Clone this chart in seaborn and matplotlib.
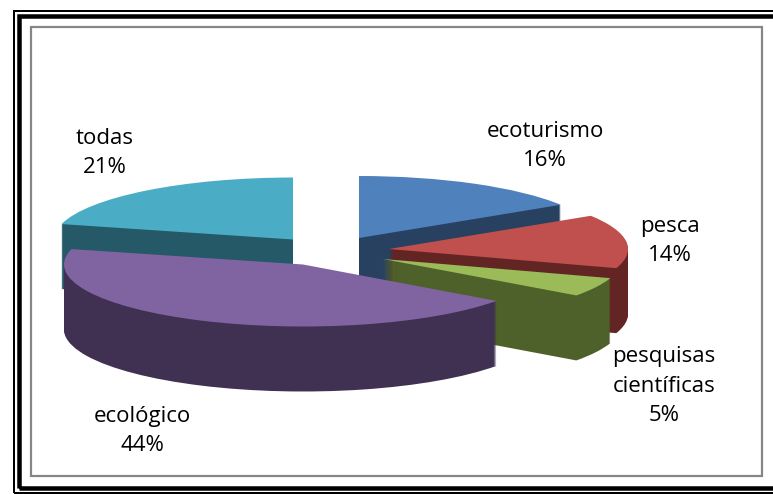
import matplotlib
matplotlib.use("Agg")
import matplotlib.pyplot as plt
from matplotlib.patches import Rectangle
import seaborn as sns

categories = ["ecoturismo", "pesca", "pesquisas\ncientíficas", "ecológico", "todas"]
values = [16, 14, 5, 44, 21]
top_colors = ["#4F81BD", "#C0504D", "#9BBB59", "#8064A2", "#4BACC6"]
wall_colors = ["#284160", "#632523", "#4F612A", "#403152", "#255967"]

# layout (pixels of the 773x494 image)
W, H = 773, 494
RX, RY = 239, 62
DEPTH = 65
centers = [(359, 238), (389, 249), (383, 259), (303, 264.5), (293, 239.5)]
draw_order = [4, 0, 1, 2, 3]
label_pos = [(545, 146), (670, 241), (664, 386), (142, 431), (105, 153)]

sns.set_theme(style="white")
plt.rcParams["font.family"] = ["Open Sans", "DejaVu Sans"]
top_pal = sns.color_palette(top_colors)
wall_pal = sns.color_palette(wall_colors)

K = RY / RX
def yd(py):
    return (H - py) / K

fig = plt.figure(figsize=(W / 100, H / 100), dpi=100, facecolor="white")
ax = fig.add_axes([0, 0, 1, 1])

def one_wedge(i, cx, py, color, z):
    wedges, _ = ax.pie(values, center=(cx, yd(py)), radius=RX, startangle=90,
                       counterclock=False, colors=[color] * len(values),
                       frame=True, wedgeprops={"linewidth": 0})
    for j, w in enumerate(wedges):
        if j != i:
            w.remove()
        else:
            w.set_zorder(z)

z = 3.0
for i in draw_order:
    cx, cy = centers[i]
    for d in range(DEPTH, 0, -1):
        z += 0.001
        one_wedge(i, cx, cy + d, wall_pal[i], z)
    z += 0.001
    one_wedge(i, cx, cy, top_pal[i], z)

ax.set_aspect("auto")
ax.set_xlim(0, W)
ax.set_ylim(0, H / K)
ax.set_xticks([])
ax.set_yticks([])
for s in ax.spines.values():
    s.set_visible(False)

def frame(x0, y0, x1, y1, color, lw):
    ax.add_patch(Rectangle((x0, yd(y1)), x1 - x0, yd(y0) - yd(y1), fill=False,
                           edgecolor=color, linewidth=lw * 0.72, zorder=2,
                           clip_on=True))

frame(14, 11, 790, 493, "black", 2)
frame(19, 16, 785, 488, "black", 4.5)
frame(31, 27, 762, 476, "#868686", 2.2)

for name, v, (x, y) in zip(categories, values, label_pos):
    ax.text(x, yd(y), f"{name}\n{v}%", ha="center", va="center", fontsize=16,
            color="black", linespacing=1.56, zorder=50)

fig.savefig("out.png", dpi=100, facecolor="white")
